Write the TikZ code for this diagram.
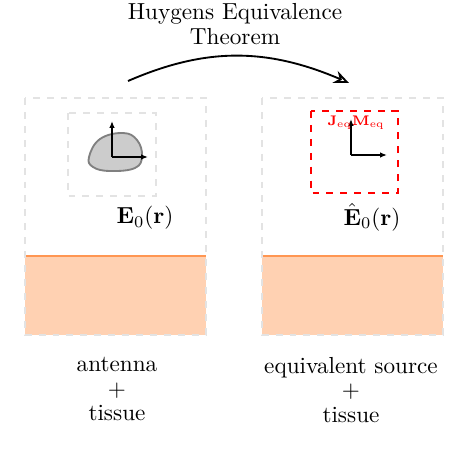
\documentclass[tikz,border=0pt]{standalone}
\usepackage{amsmath}
\usepackage{bm}
\usetikzlibrary{arrows.meta,bending}
\definecolor{tissue}{RGB}{255,209,178}
\definecolor{tissueline}{RGB}{255,150,82}

\begin{document}
\begin{tikzpicture}[>=Stealth, x=0.431pt, y=-0.431pt,
    region/.style={dashed, thick, gray!22},
    axis/.style={->, >={Latex[length=3pt,width=2.4pt]}, semithick},
    caption/.style={align=center, font=\fontsize{10}{10.7}\selectfont}]
    \useasboundingbox (0,0) rectangle (452,458);
    % tissue layers
    \fill [tissue] (25,256) rectangle (206,335);
    \fill [tissue] (262,256) rectangle (443,335);
    \draw [tissueline, thick] (25,256) -- (206,256);
    \draw [tissueline, thick] (262,256) -- (443,256);
    \draw [region] (25,98) rectangle (206,335);
    \draw [region] (262,98) rectangle (443,335);
    % antenna
    \draw [region] (68,113) rectangle (156,196);
    \filldraw [fill=gray!40, draw=gray, thick] plot [smooth cycle, tension=0.7]
        coordinates {(89,157) (100,139) (123,133) (137,140) (142,156) (135,168) (110,171) (93,167)};
    \coordinate (oA) at (112,157);
    \coordinate (xA) at (148,157);
    \coordinate (yA) at (112,121);
    \draw [axis] (oA) -- (xA);
    \draw [axis] (oA) -- (yA);
    \node (fieldA) at (145,218) {$\mathbf{E}_0(\mathbf{r})$};
    % equivalent source
    \draw [red, dashed, thick] (311,111) rectangle (398,193);
    \coordinate (oB) at (351,155);
    \coordinate (xB) at (387,155);
    \coordinate (yB) at (351,119);
    \draw [axis] (oB) -- (xB);
    \draw [axis] (oB) -- (yB);
    \node [red, font=\fontsize{6.3}{7}\selectfont] (currents) at (356,123) {$\mathbf{J}_{\text{eq}}\mathbf{M}_{\text{eq}}$};
    \node (fieldB) at (372,217) {$\hat{\mathbf{E}}_0(\mathbf{r})$};
    % labels
    \node [caption] (left) at (117,389) {antenna\\+\\tissue};
    \node [caption] (right) at (351,390) {equivalent source\\+\\tissue};
    \coordinate (from) at (128,81);
    \coordinate (to) at (349,83);
    \draw [->, >={Stealth[open,length=6.5pt,width=5.5pt]}, thick] (from) to [bend left=24] (to);
    \node [caption] (theorem) at (235,24) {Huygens Equivalence\\Theorem};
\end{tikzpicture}
\end{document}
